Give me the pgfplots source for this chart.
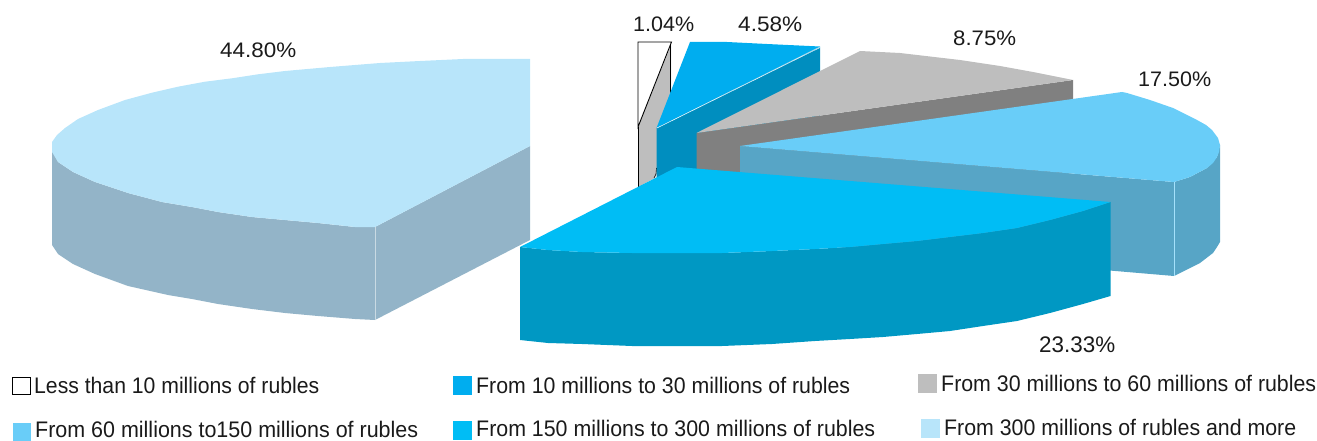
\documentclass[border=0pt]{standalone}
\usepackage{pgfplots}
\usepackage{graphicx}
\usepackage{fontspec}
\setmainfont{Liberation Sans}
\pgfplotsset{compat=1.18}
\definecolor{cA}{HTML}{00ADEF}\definecolor{cAs}{HTML}{008EBF}
\definecolor{cG}{HTML}{BEBEBE}\definecolor{cGs}{HTML}{808080}
\definecolor{cM}{HTML}{69CDF8}\definecolor{cMs}{HTML}{57A5C6}
\definecolor{cF}{HTML}{00BDF5}\definecolor{cFs}{HTML}{0098C3}
\definecolor{cL}{HTML}{B8E5FA}\definecolor{cLs}{HTML}{93B4C8}
\definecolor{txt}{HTML}{1A1A1A}
\newcommand{\lab}[4]{\node[anchor=base west,inner sep=0pt,text=txt] at (axis cs:#1,#2) {\resizebox{#3pt}{\height}{\fontsize{21}{24}\selectfont #4}};}
\newcommand{\leg}[4]{\node[anchor=base west,inner sep=0pt,text=txt] at (axis cs:#1,#2) {\resizebox{#3pt}{\height}{\fontsize{22.5}{25}\selectfont #4}};}
\begin{document}
\begin{tikzpicture}
\path[use as bounding box] (0,0) rectangle (1317pt,441pt);
\begin{axis}[at={(0,0)},anchor=south west,scale only axis,width=1317pt,height=441pt,
  xmin=0,xmax=1317,ymin=0,ymax=441,y dir=reverse,hide axis,clip=false]
% 1.04 % slice
\addplot[fill=cG,draw=none] coordinates {(638,127)(671,45)(671,140)(655,178)(638,187)} -- cycle;
\addplot[fill=white,draw=black,line width=0.9pt] coordinates {(638,42)(671.5,42)(638,127)} -- cycle;
\addplot[black,line width=0.9pt] coordinates {(638,127)(638,187)};
\addplot[black,line width=0.9pt] coordinates {(670.7,45)(670.7,95)};
\addplot[black,line width=0.6pt] coordinates {(656.5,168)(656,174)(654,178)};
% 4.58 % slice
\addplot[fill=cAs,draw=none] coordinates {(656.5,128)(820,47)(820,140)(656.5,221)} -- cycle;
\addplot[fill=cA,draw=none] coordinates {(656.5,128)(690,42)(727,42)(767,44)(820,46.5)} -- cycle;
\addplot[white,line width=0.5pt] coordinates {(657,128)(820,47.5)};
% 8.75 % slice
\addplot[fill=cGs,draw=none] coordinates {(696.5,133)(1073,80)(1073,173)(696.5,226)} -- cycle;
\addplot[fill=cG,draw=none] coordinates {(696.5,133)(860,51)(900,53)(960,60)(1000,66)(1033,72)(1073,80)} -- cycle;
% 17.50 % slice
\addplot[fill=cMs,draw=none] coordinates {(740,146)(1174,182)(1190,177)(1207,168)(1217,157)(1220,145)(1220,242)(1217,247)(1213,253)(1200,263)(1174,276)(740,239)} -- cycle;
\addplot[fill=cM,draw=none] coordinates {(740,146)(1122,92)(1127,93)(1150,100)(1173,108)(1197,120)(1206,125)(1212,130)(1218,138)(1220,145)(1219,152)(1217,157)(1213,163)(1207,168)(1190,177)(1174,182)} -- cycle;
\addplot[cM!60!white,line width=0.5pt] coordinates {(1174,182)(1174,276)};
% 23.33 % slice
\addplot[fill=cFs,draw=none] coordinates {(520,247)(548,250)(582,252)(632,253)(722,253)(772,251)(815,249)(850,247)(883,244)(917,241)(950,237)(983,233)(1017,228)(1050,220)(1083,211)(1110.5,202)(1110.5,296)(1083,304)(1050,313)(1017,321)(983,326)(950,331)(917,334)(883,337)(850,339)(815,341)(772,344)(722,346)(632,346)(582,344)(548,343)(520,340)} -- cycle;
\addplot[fill=cF,draw=none] coordinates {(520,247)(677,167)(1110.5,202)(1083,211)(1050,220)(1017,228)(983,233)(950,237)(917,241)(883,244)(850,247)(815,249)(772,251)(722,253)(632,253)(582,252)(548,250)} -- cycle;
% 44.80 % slice
\addplot[fill=cLs,draw=none] coordinates {(52,150)(58,162)(73,172)(95,182)(128,193)(162,202)(192,207)(218,212)(252,217)(285,220)(318,223)(355,227)(375,227)(530,146)(530,240)(375,320)(355,319)(318,316)(285,313)(252,309)(218,304)(192,299)(168,295)(128,286)(95,274)(73,264)(58,254)(52,245)} -- cycle;
\addplot[fill=cL,draw=none] coordinates {(530,59)(463,59)(420,61)(380,63)(330,67)(285,71)(258,74.3)(232,78.3)(205,81.7)(178,86.7)(152,92.7)(125,100)(98,110)(78,119)(65,128)(57,135)(52,142)(52,152)(58,162)(73,172)(95,182)(128,193)(162,202)(192,207)(218,212)(252,217)(285,220)(318,223)(355,227)(375,227)(530,146)} -- cycle;
\addplot[cLs!50!white,line width=0.5pt] coordinates {(375,227)(375,320)};
% legend swatches
\addplot[fill=white,draw=black,line width=0.7pt] coordinates {(12,377)(30,377)(30,394)(12,394)} -- cycle;
\addplot[fill=cA,draw=none] coordinates {(453,376)(472,376)(472,395)(453,395)} -- cycle;
\addplot[fill=cG,draw=none] coordinates {(918,374)(937,374)(937,393)(918,393)} -- cycle;
\addplot[fill=cM,draw=none] coordinates {(12.5,423)(31,423)(31,441)(12.5,441)} -- cycle;
\addplot[fill=cF,draw=none] coordinates {(453,421)(472,421)(472,440)(453,440)} -- cycle;
\addplot[fill=cL,draw=none] coordinates {(921,419)(940,419)(940,438)(921,438)} -- cycle;
% value labels
\lab{220}{58}{76}{44.80\%}
\lab{633}{32}{61}{1.04\%}
\lab{738}{32}{64}{4.58\%}
\lab{953}{46}{63}{8.75\%}
\lab{1138}{87}{73}{17.50\%}
\leg{1039}{352}{76}{23.33\%}
% legend labels
\leg{34}{393}{285}{Less than 10 millions of rubles}
\leg{476}{393}{374}{From 10 millions to 30 millions of rubles}
\leg{941}{391}{375}{From 30 millions to 60 millions of rubles}
\leg{35}{437.5}{383}{From 60 millions to150 millions of rubles}
\leg{476}{436.5}{399}{From 150 millions to 300 millions of rubles}
\leg{944}{435}{352}{From 300 millions of rubles and more}
\end{axis}
\end{tikzpicture}
\end{document}
